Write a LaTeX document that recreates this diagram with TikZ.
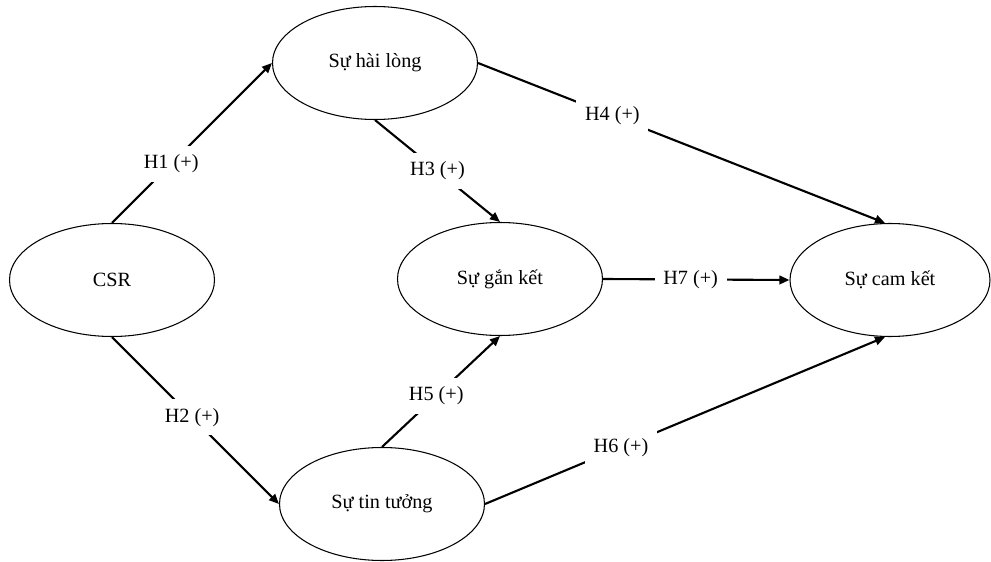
\documentclass[tikz,border=0pt]{standalone}
\usepackage{fontspec}
\setmainfont{Liberation Serif}
\usetikzlibrary{
    shapes.geometric,
    arrows.meta
}
\tikzset{
  construct/.style={
    draw,
    ellipse,
    line width=0.6pt,
    minimum width=4.1cm,
    minimum height=2.26cm,
    font=\fontsize{11.5}{14}\selectfont
  },
  hypo/.style={
    line width=1.2pt,
    -{Triangle[length=2mm,width=1.7mm]}
  },
  hlabel/.style={
    fill=white,
    inner sep=5pt,
    font=\fontsize{11.5}{14}\selectfont
  }
}

\begin{document}
\begin{tikzpicture}

    \useasboundingbox (0,0) rectangle (19.82,11.22);

    %-------------------------
    % constructs
    %-------------------------
    \node[construct] (csr) at (2.24,5.62) {CSR};
    \node[construct] (hailong) at (7.5,9.96) {Sự hài lòng};
    \node[construct] (ganket) at (10.0,5.64) {Sự gắn kết};
    \node[construct, minimum width=4.0cm] (camket) at (17.8,5.62) {Sự cam kết};
    \node[construct] (tintuong) at (7.64,1.14) {Sự tin tưởng};

    %-------------------------
    % hypotheses
    %-------------------------
    \draw[hypo] (csr.north) -- node[hlabel,pos=0.37] (h1) {H1 (+)} (hailong.west);
    \draw[hypo] (csr.south) -- node[hlabel,pos=0.48] (h2) {H2 (+)} (tintuong.west);
    \draw[hypo] (hailong.south) -- node[hlabel,pos=0.5] (h3) {H3 (+)} (ganket.north);
    \draw[hypo] (hailong.east) -- node[hlabel,pos=0.33] (h4) {H4 (+)} ([xshift=-0.1cm]camket.north);
    \draw[hypo] (tintuong.north) -- node[hlabel,pos=0.46] (h5) {H5 (+)} (ganket.south);
    \draw[hypo] (tintuong.east) -- node[hlabel,pos=0.34] (h6) {H6 (+)} ([xshift=-0.1cm]camket.south);
    \draw[hypo] (ganket.east) -- node[hlabel,pos=0.47] (h7) {H7 (+)} (camket.west);

\end{tikzpicture}
\end{document}
